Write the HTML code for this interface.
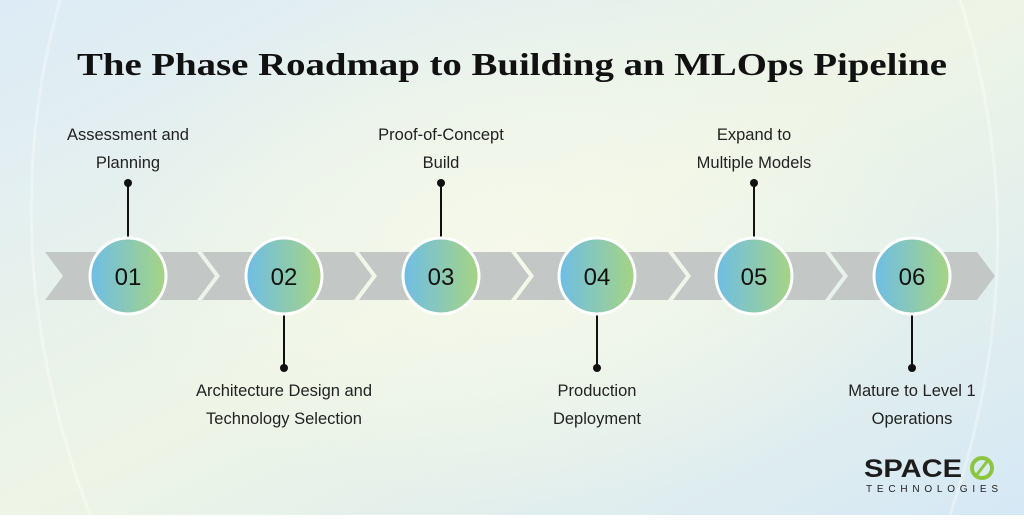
<!DOCTYPE html>
<html><head><meta charset="utf-8"><style>
html,body{margin:0;padding:0;}
body{width:1024px;height:515px;overflow:hidden;font-family:"Liberation Sans",sans-serif;}
</style></head><body>
<svg width="1024" height="515" viewBox="0 0 1024 515" xmlns="http://www.w3.org/2000/svg">
<defs>
<linearGradient id="bg" x1="0" y1="0" x2="1" y2="1">
<stop offset="0" stop-color="#dcebf6"/>
<stop offset="0.5" stop-color="#eef5e6"/>
<stop offset="1" stop-color="#d5e8f5"/>
</linearGradient>
<linearGradient id="cg" x1="0" y1="0" x2="1" y2="0">
<stop offset="0" stop-color="#6fbde6"/>
<stop offset="1" stop-color="#a6d483"/>
</linearGradient>
<radialGradient id="glow" cx="0.5" cy="0.5" r="0.5">
<stop offset="0" stop-color="#f6f9ea" stop-opacity="0.9"/>
<stop offset="1" stop-color="#f6f9ea" stop-opacity="0"/>
</radialGradient>
</defs>
<rect width="1024" height="515" fill="url(#bg)"/>
<ellipse cx="520" cy="250" rx="420" ry="260" fill="url(#glow)"/>
<path d="M60 0 Q-10 250 90 515" stroke="#ffffff" stroke-opacity="0.35" stroke-width="3" fill="none"/>
<path d="M960 0 Q1040 250 950 515" stroke="#ffffff" stroke-opacity="0.35" stroke-width="3" fill="none"/>
<text x="512" y="75" text-anchor="middle" font-family="Liberation Serif,serif" font-weight="bold" font-size="32" fill="#111" textLength="870" lengthAdjust="spacingAndGlyphs">The Phase Roadmap to Building an MLOps Pipeline</text>
<g fill="#c3c8c6">
<polygon points="45,252 197,252 215,276 197,300 45,300 63,276"/>
<polygon points="202,252 354,252 372,276 354,300 202,300 220,276"/>
<polygon points="359,252 511,252 529,276 511,300 359,300 377,276"/>
<polygon points="516,252 668,252 686,276 668,300 516,300 534,276"/>
<polygon points="673,252 825,252 843,276 825,300 673,300 691,276"/>
<polygon points="830,252 977,252 995,276 977,300 830,300 848,276"/>
</g>
<g stroke="#111" stroke-width="2">
<line x1="128" y1="183" x2="128" y2="238"/>
<line x1="441" y1="183" x2="441" y2="238"/>
<line x1="754" y1="183" x2="754" y2="238"/>
<line x1="284" y1="314" x2="284" y2="368"/>
<line x1="597" y1="314" x2="597" y2="368"/>
<line x1="912" y1="314" x2="912" y2="368"/>
</g>
<g fill="#111">
<circle cx="128" cy="183" r="4"/><circle cx="441" cy="183" r="4"/><circle cx="754" cy="183" r="4"/>
<circle cx="284" cy="368" r="4"/><circle cx="597" cy="368" r="4"/><circle cx="912" cy="368" r="4"/>
</g>
<g stroke="#fff" stroke-width="3" fill="url(#cg)">
<circle cx="128" cy="276" r="38"/><circle cx="284" cy="276" r="38"/><circle cx="441" cy="276" r="38"/>
<circle cx="597" cy="276" r="38"/><circle cx="754" cy="276" r="38"/><circle cx="912" cy="276" r="38"/>
</g>
<g font-size="24" fill="#111" text-anchor="middle">
<text x="128" y="285">01</text><text x="284" y="285">02</text><text x="441" y="285">03</text>
<text x="597" y="285">04</text><text x="754" y="285">05</text><text x="912" y="285">06</text>
</g>
<g font-size="16.5" fill="#222" text-anchor="middle">
<text x="128" y="140">Assessment and</text><text x="128" y="168">Planning</text>
<text x="441" y="140">Proof-of-Concept</text><text x="441" y="168">Build</text>
<text x="754" y="140">Expand to</text><text x="754" y="168">Multiple Models</text>
<text x="284" y="396">Architecture Design and</text><text x="284" y="424">Technology Selection</text>
<text x="597" y="396">Production</text><text x="597" y="424">Deployment</text>
<text x="912" y="396">Mature to Level 1</text><text x="912" y="424">Operations</text>
</g>
<text x="864" y="477" font-size="25" font-weight="bold" fill="#1c1c1c" textLength="98" lengthAdjust="spacingAndGlyphs">SPACE</text>
<circle cx="982" cy="468" r="10" fill="none" stroke="#8cc63f" stroke-width="4"/>
<line x1="975" y1="477" x2="989" y2="459" stroke="#8cc63f" stroke-width="3"/>
<text x="866" y="492" font-size="10" fill="#222" textLength="132" lengthAdjust="spacing">TECHNOLOGIES</text>
</svg>
</body></html>
